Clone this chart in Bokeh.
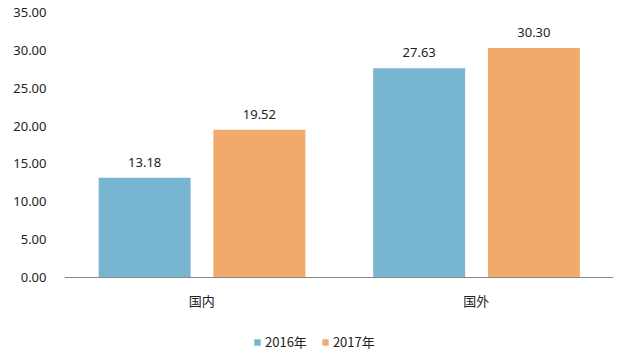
from bokeh.plotting import figure
from bokeh.models import ColumnDataSource, FactorRange, Range1d, LabelSet, Legend, LegendItem, FixedTicker, CustomJSTickFormatter, Span
from bokeh.transform import dodge
from bokeh.embed import file_html
from bokeh.resources import INLINE
from bokeh.core.properties import value

categories = ["国内", "国外"]
series_names = ["2016年", "2017年"]
values_2016 = [13.18, 27.63]
values_2017 = [19.52, 30.30]
y_ticks = [0, 5, 10, 15, 20, 25, 30, 35]

blue = "#78B5D0"
orange = "#F2A96C"
font = "Noto Sans"
cjk = "Noto Sans CJK SC"

src = ColumnDataSource(dict(
    cat=categories,
    v16=values_2016,
    v17=values_2017,
    l16=[f"{v:.2f}" for v in values_2016],
    l17=[f"{v:.2f}" for v in values_2017],
))

# frame spans to the bottom of the page so the legend and category labels sit inside it
y_max = 35
plot_px = 265
below_px = 84
y_min = -y_max * below_px / plot_px

p = figure(x_range=FactorRange(*categories, range_padding=0), y_range=Range1d(y_min, y_max),
           frame_width=549, frame_height=plot_px + below_px,
           min_border_left=64, min_border_right=10, min_border_top=12, min_border_bottom=0,
           output_backend="svg", toolbar_location=None)
p.outline_line_color = None
p.background_fill_color = "white"

r1 = p.vbar(x=dodge("cat", -0.208, range=p.x_range), top="v16", width=0.335, source=src,
            fill_color=blue, line_color=None)
r2 = p.vbar(x=dodge("cat", 0.21, range=p.x_range), top="v17", width=0.335, source=src,
            fill_color=orange, line_color=None)

for xcol, ycol, lcol, off in [("cat", "v16", "l16", -0.208), ("cat", "v17", "l17", 0.21)]:
    p.add_layout(LabelSet(x=dodge(xcol, off, range=p.x_range), y=ycol, text=lcol, source=src,
                          text_align="center", y_offset=11, text_font_size="13px",
                          text_font=value(font), text_color="#222222"))

# category axis line and labels
p.add_layout(Span(location=0, dimension="width", line_color="#888888", line_width=1))
p.add_layout(LabelSet(x="cat", y=0, text="cat", source=src, text_align="center",
                      text_baseline="top", y_offset=-13, text_font_size="13px",
                      text_font=value(cjk), text_color="#222222"))

p.xgrid.grid_line_color = None
p.ygrid.grid_line_color = None
p.xaxis.visible = False

p.yaxis.ticker = FixedTicker(ticks=y_ticks)
p.yaxis.formatter = CustomJSTickFormatter(code="return tick.toFixed(2);")
p.yaxis.axis_line_color = None
p.yaxis.major_tick_line_color = None
p.yaxis.minor_tick_line_color = None
p.yaxis.major_tick_out = 0
p.yaxis.minor_tick_out = 0
p.yaxis.major_label_standoff = 18
p.yaxis.major_label_text_font_size = "13px"
p.yaxis.major_label_text_font = font
p.yaxis.major_label_text_color = "#222222"

legend = Legend(items=[LegendItem(label=series_names[0], renderers=[r1]),
                       LegendItem(label=series_names[1], renderers=[r2])],
                orientation="horizontal", location=(189, 10),
                glyph_width=8, glyph_height=8, label_text_font_size="13px",
                label_text_font=cjk, label_text_color="#222222",
                border_line_color=None, background_fill_alpha=0, spacing=14,
                label_standoff=4, padding=0, margin=0)
p.add_layout(legend, "center")

open("out.html", "w").write(file_html(p, INLINE))
